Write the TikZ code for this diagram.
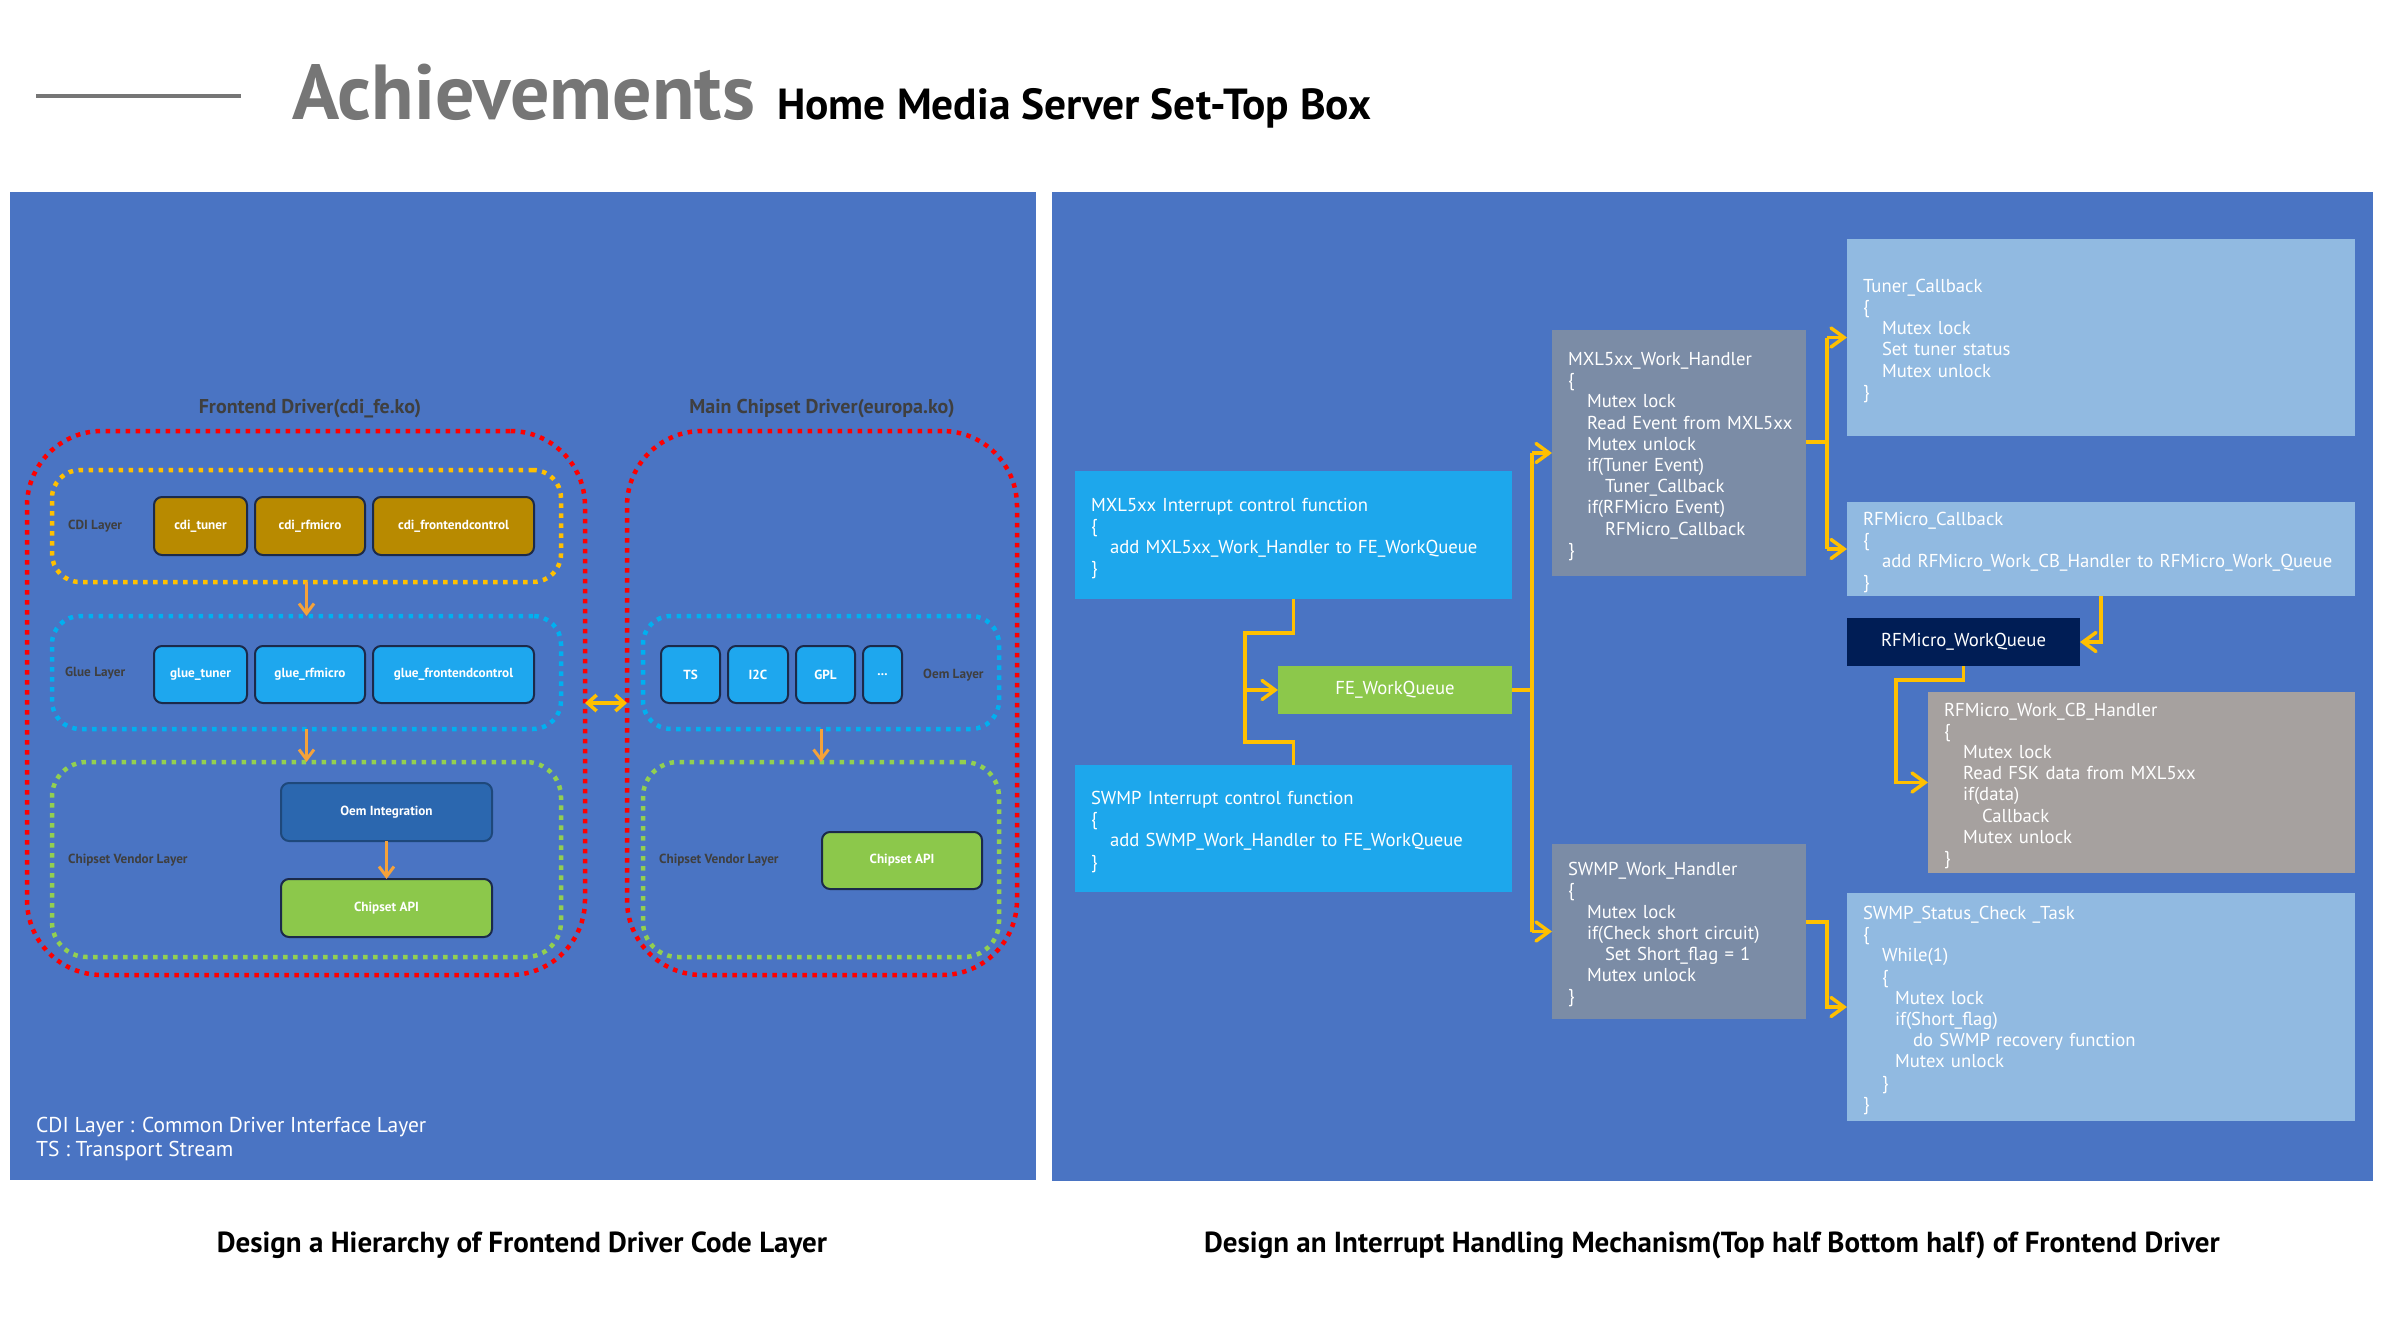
\documentclass[tikz,border=0pt]{standalone}
\usepackage{fontspec}
\setmainfont{PT Sans}
\usetikzlibrary{arrows.meta,calc}
\definecolor{panel}{HTML}{4A74C3}
\definecolor{skyb}{HTML}{1DA7EC}
\definecolor{feg}{HTML}{8CC84B}
\definecolor{hand}{HTML}{7B8CA6}
\definecolor{lightb}{HTML}{91BAE1}
\definecolor{navyq}{HTML}{001D55}
\definecolor{cbg}{HTML}{A6A19F}
\definecolor{cdig}{HTML}{B88A00}
\definecolor{glueb}{HTML}{1EA7EE}
\definecolor{oemb}{HTML}{2B67AF}
\definecolor{boxline}{HTML}{1B2A4A}
\definecolor{gold}{HTML}{FFC000}
\definecolor{larr}{HTML}{F5A23A}
\definecolor{dred}{HTML}{FF0000}
\definecolor{dyel}{HTML}{FFC000}
\definecolor{dblu}{HTML}{00B0F0}
\definecolor{dgrn}{HTML}{92D050}
\definecolor{lab}{HTML}{3F3F3F}
\definecolor{ttl}{HTML}{767676}
\begin{document}
\begin{tikzpicture}[x=1bp,y=-1bp,
  panelbox/.style={anchor=north west,inner sep=0,outer sep=0,fill=panel,draw=none},
  code/.style={anchor=north west,inner ysep=0,inner xsep=16bp,outer sep=0,align=left,text=white,
    font=\fontsize{18.7bp}{21.2bp}\selectfont,execute at begin node={\rule{0pt}{20bp}}},
  qbox/.style={anchor=north west,inner sep=0,outer sep=0,text=white,font=\fontsize{18.7bp}{21.2bp}\selectfont},
  lbox/.style={anchor=north west,inner sep=0,outer sep=0,rounded corners=8bp,draw=boxline,line width=2bp,
    text=white,font=\fontsize{13.2bp}{15bp}\selectfont\bfseries},
  dotbox/.style={anchor=north west,inner sep=0,outer sep=0,line width=4.5bp,dash pattern=on 4.5bp off 5.5bp},
  laylab/.style={anchor=west,inner sep=0,text=lab,font=\fontsize{13.2bp}{15bp}\selectfont\bfseries},
  larrow/.style={draw=larr,line width=3bp,-{Straight Barb[length=10bp,width=15bp]}},
  conn/.style={draw=gold,line width=3.5bp},
  carrow/.style={conn,-{Straight Barb[length=13bp,width=19bp,line cap=round]}}
]
\fill[white] (0,0) rectangle (2384,1340);
\useasboundingbox (0,0) rectangle (2384,1340);

% ---------- header ----------
\draw[ttl,line width=4bp] (36,96) coordinate (hl1) -- (241,96) coordinate (hl2);
\node[anchor=base west,inner sep=0,text=ttl,font=\fontsize{78bp}{84bp}\selectfont\bfseries] (ach) at (292,120) {Achievements};
\node[anchor=base west,inner sep=0,text=black,font=\fontsize{43.5bp}{48bp}\selectfont\bfseries] (hms) at (777,120) {Home Media Server Set-Top Box};

% ---------- panels ----------
\node[panelbox,minimum width=1026bp,minimum height=988bp] (lp) at (10,192) {};
\node[panelbox,minimum width=1321bp,minimum height=989bp] (rp) at (1052,192) {};

% ---------- left diagram ----------
\node[text=lab,font=\fontsize{20bp}{22bp}\selectfont\bfseries,inner sep=0] (t1) at (310,409) {Frontend Driver(cdi\_fe.ko)};
\node[text=lab,font=\fontsize{20bp}{22bp}\selectfont\bfseries,inner sep=0] (t2) at (822,409) {Main Chipset Driver(europa.ko)};

\node[dotbox,draw=dred,rounded corners=75bp,minimum width=558bp,minimum height=544bp] (redL) at (27,431) {};
\node[dotbox,draw=dred,rounded corners=75bp,minimum width=390bp,minimum height=544bp] (redR) at (627,431) {};

\node[dotbox,draw=dyel,rounded corners=28bp,minimum width=509bp,minimum height=112bp] (yel) at (52,470) {};
\node[dotbox,draw=dblu,rounded corners=28bp,minimum width=509bp,minimum height=113bp] (bluL) at (52,616) {};
\node[dotbox,draw=dgrn,rounded corners=35bp,minimum width=509bp,minimum height=195bp] (grnL) at (52,762) {};
\node[dotbox,draw=dblu,rounded corners=28bp,minimum width=356bp,minimum height=113bp] (bluR) at (643,616) {};
\node[dotbox,draw=dgrn,rounded corners=35bp,minimum width=356bp,minimum height=195bp] (grnR) at (643,762) {};

\node[laylab] (l1) at (68,526) {CDI Layer};
\node[laylab] (l2) at (65,673) {Glue Layer};
\node[laylab] (l3) at (68,860) {Chipset Vendor Layer};
\node[laylab] (l4) at (659,860) {Chipset Vendor Layer};
\node[laylab] (l5) at (923,675) {Oem Layer};

\node[lbox,fill=cdig,minimum width=93bp,minimum height=58bp] (c1) at (154,497) {cdi\_tuner};
\node[lbox,fill=cdig,minimum width=110bp,minimum height=58bp] (c2) at (255,497) {cdi\_rfmicro};
\node[lbox,fill=cdig,minimum width=161bp,minimum height=58bp] (c3) at (373,497) {cdi\_frontendcontrol};
\node[lbox,fill=glueb,minimum width=93bp,minimum height=57bp] (g1) at (154,646) {glue\_tuner};
\node[lbox,fill=glueb,minimum width=110bp,minimum height=57bp] (g2) at (255,646) {glue\_rfmicro};
\node[lbox,fill=glueb,minimum width=161bp,minimum height=57bp] (g3) at (373,646) {glue\_frontendcontrol};
\node[lbox,fill=oemb,draw=oemb!70!black,minimum width=211bp,minimum height=58bp] (oemi) at (281,783) {Oem Integration};
\node[lbox,fill=feg,minimum width=211bp,minimum height=58bp] (capiL) at (281,879) {Chipset API};

\node[lbox,fill=glueb,minimum width=59bp,minimum height=57bp] (ts) at (661,646) {TS};
\node[lbox,fill=glueb,minimum width=60bp,minimum height=57bp] (i2c) at (728,646) {I2C};
\node[lbox,fill=glueb,minimum width=59bp,minimum height=57bp] (gpl) at (796,646) {GPL};
\node[lbox,fill=glueb,minimum width=39bp,minimum height=57bp] (dots) at (863,646) {...};
\node[lbox,fill=feg,minimum width=160bp,minimum height=57bp] (capiR) at (822,832) {Chipset API};

\draw[larrow] (yel.south) -- (bluL.north);
\draw[larrow] (bluL.south) -- (grnL.north);
\draw[larrow] (oemi.south) -- (capiL.north);
\draw[larrow] (bluR.south) -- (grnR.north);
\draw[draw=gold,line width=3.5bp,{Straight Barb[length=9bp,width=16bp]}-{Straight Barb[length=9bp,width=16bp]}] (redL.east) -- (redR.west);

\node[anchor=base west,align=left,inner sep=0,text=white,font=\fontsize{21.5bp}{24bp}\selectfont] (legend) at (36,1156)
  {CDI Layer : Common Driver Interface Layer\\TS : Transport Stream};

% ---------- right diagram ----------
\node[code,fill=skyb,text width=405bp,minimum height=128bp] (mxli) at (1075,471)
  {MXL5xx Interrupt control function\\\{\\\hspace*{19bp}add MXL5xx\_Work\_Handler to FE\_WorkQueue\\\}};
\node[code,fill=skyb,text width=405bp,minimum height=127bp] (swmpi) at (1075,765)
  {SWMP Interrupt control function\\\{\\\hspace*{19bp}add SWMP\_Work\_Handler to FE\_WorkQueue\\\}};
\node[qbox,fill=feg,minimum width=234bp,minimum height=48bp] (fe) at (1278,666) {FE\_WorkQueue};

\node[code,fill=hand,text width=222bp,minimum height=246bp] (mxlh) at (1552,330)
  {MXL5xx\_Work\_Handler\\\{\\\hspace*{19bp}Mutex lock\\\hspace*{19bp}\mbox{Read Event from MXL5xx}\\\hspace*{19bp}Mutex unlock\\
   \hspace*{19bp}if(Tuner Event)\\\hspace*{37bp}Tuner\_Callback\\\hspace*{19bp}if(RFMicro Event)\\\hspace*{37bp}RFMicro\_Callback\\\}};
\node[code,fill=hand,text width=222bp,minimum height=175bp] (swmph) at (1552,844)
  {SWMP\_Work\_Handler\\\{\\\hspace*{19bp}Mutex lock\\\hspace*{19bp}\mbox{if(Check short circuit)}\\\hspace*{37bp}\mbox{Set Short\_flag = 1}\\
   \hspace*{19bp}Mutex unlock\\\}};

\node[code,fill=lightb,text width=476bp,minimum height=197bp] (tuner) at (1847,239)
  {Tuner\_Callback\\\{\\\hspace*{19bp}Mutex lock\\\hspace*{19bp}Set tuner status\\\hspace*{19bp}Mutex unlock\\\}};
\node[code,fill=lightb,text width=476bp,minimum height=94bp] (rf) at (1847,502)
  {RFMicro\_Callback\\\{\\\hspace*{19bp}\mbox{add RFMicro\_Work\_CB\_Handler to RFMicro\_Work\_Queue}\\\}};
\node[qbox,fill=navyq,minimum width=233bp,minimum height=48bp] (rfwq) at (1847,618) {RFMicro\_WorkQueue};
\node[code,fill=cbg,text width=395bp,minimum height=181bp] (cbh) at (1928,692)
  {RFMicro\_Work\_CB\_Handler\\\{\\\hspace*{19bp}Mutex lock\\\hspace*{19bp}Read FSK data from MXL5xx\\\hspace*{19bp}if(data)\\
   \hspace*{38bp}Callback\\\hspace*{19bp}Mutex unlock\\\}};
\node[code,fill=lightb,text width=476bp,minimum height=228bp] (status) at (1847,893)
  {SWMP\_Status\_Check \_Task\\\{\\\hspace*{19bp}While(1)\\\hspace*{19bp}\{\\\hspace*{32bp}Mutex lock\\\hspace*{32bp}if(Short\_flag)\\
   \hspace*{50bp}do SWMP recovery function\\\hspace*{32bp}Mutex unlock\\\hspace*{19bp}\}\\\}};

\coordinate (jx) at (1245,0);
\coordinate (vx) at (1532,0);
\coordinate (vx2) at (1827,0);
\coordinate (bx) at (2101,0);
\coordinate (cx) at (1896,0);

\draw[conn] (mxli.south) -- ++(0,34) -| ($(swmpi.north -| jx)+(0,-23)$) -| (swmpi.north);
\draw[carrow] (fe.west -| jx) -- (fe.west);
\draw[conn] (fe.east) -- (fe.east -| vx);
\draw[conn] (mxlh.west -| vx) -- (swmph.west -| vx);
\draw[carrow] (mxlh.west -| vx) -- (mxlh.west);
\draw[carrow] (swmph.west -| vx) -- (swmph.west);

\draw[conn] ([yshift=11bp]mxlh.east) -- ([yshift=11bp]mxlh.east -| vx2);
\draw[conn] (tuner.west -| vx2) -- (rf.west -| vx2);
\draw[carrow] (tuner.west -| vx2) -- (tuner.west);
\draw[carrow] (rf.west -| vx2) -- (rf.west);
\draw[carrow] (rf.south -| bx) |- (rfwq.east);
\draw[carrow] (rfwq.south) -- ++(0,14) -| (cbh.west -| cx) -- (cbh.west);
\draw[carrow] ([yshift=9.5bp]swmph.east) -| (status.west -| vx2) -- (status.west);

% ---------- captions ----------
\node[anchor=base,inner sep=0,text=black,font=\fontsize{29bp}{32bp}\selectfont\bfseries] (cap1) at (522,1252)
  {Design a Hierarchy of Frontend Driver Code Layer};
\node[anchor=base,inner sep=0,text=black,font=\fontsize{29bp}{32bp}\selectfont\bfseries] (cap2) at (1712,1252)
  {Design an Interrupt Handling Mechanism(Top half Bottom half) of Frontend Driver};
\end{tikzpicture}
\end{document}
